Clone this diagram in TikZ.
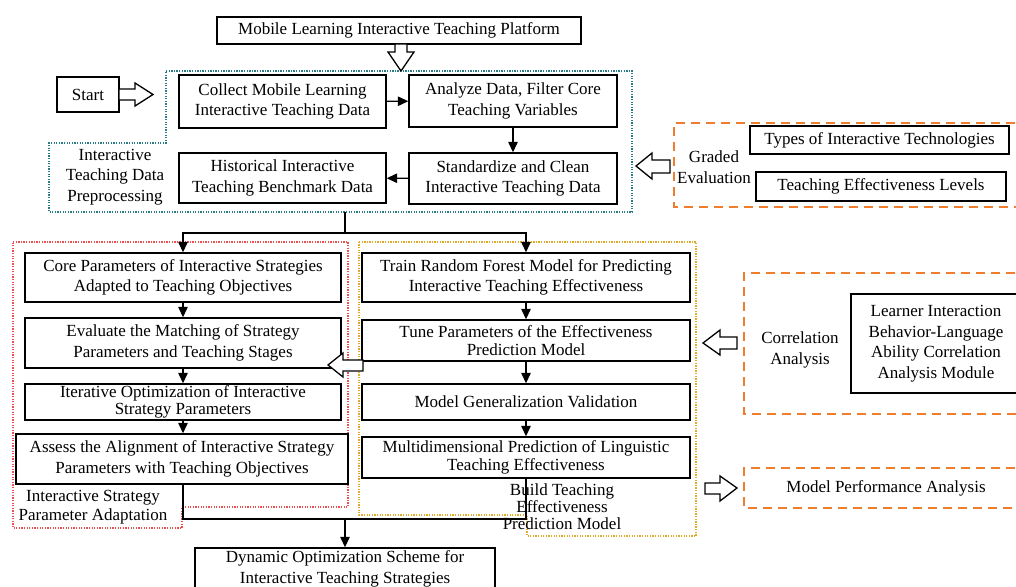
\documentclass[tikz,border=0pt]{standalone}
\usepackage{fontspec}
\setmainfont{Liberation Serif}
\usetikzlibrary{arrows.meta}
\definecolor{teal1}{RGB}{40,125,135}
\definecolor{red1}{RGB}{235,80,80}
\definecolor{yel1}{RGB}{225,170,40}
\definecolor{org1}{RGB}{240,125,45}
\begin{document}
\begin{tikzpicture}[x=1pt,y=-1pt,
 box/.style={draw=black,line width=1.4pt,align=center,inner sep=0pt,font=\fontsize{17}{20.5}\selectfont},
 tight/.style={font=\fontsize{17}{17.5}\selectfont},
 lbl/.style={align=center,inner sep=0pt,font=\fontsize{17}{20.5}\selectfont},
 arr/.style={line width=1.3pt,-{Triangle[length=10.5pt,width=9.5pt]}},
 ln/.style={line width=1.3pt},
 hollow/.style={draw=black,line width=1.3pt,fill=white,line join=miter},
 dotreg/.style={line width=1.3pt,dash pattern=on 1.3pt off 1.3pt},
 dashreg/.style={draw=org1,line width=1.6pt,dash pattern=on 9pt off 6pt}]
\useasboundingbox (0,0) rectangle (1016,586);
\fill[white] (0,0) rectangle (1016,586);
\clip (0,0) rectangle (1016,586);

% regions
\draw[dotreg,draw=teal1] (166,71) -- (632,71) -- (632,212) -- (49,212) -- (49,143) -- (166,143) -- cycle;
\draw[dotreg,draw=red1] (13,242) -- (348,242) -- (348,507) -- (182,507) -- (182,528) -- (13,528) -- cycle;
\draw[dotreg,draw=yel1] (359,242) -- (696,242) -- (696,536) -- (527,536) -- (527,515) -- (359,515) -- cycle;
\draw[dashreg] (1030,123) -- (674,123) -- (674,207) -- (1030,207);
\draw[dashreg] (1030,273) -- (744,273) -- (744,414) -- (1030,414);
\draw[dashreg] (1030,468) -- (744,468) -- (744,508) -- (1030,508);

% nodes
\node[box,minimum width=364pt,minimum height=27pt] (plat) at (399,30.5) {Mobile Learning Interactive Teaching Platform};
\node[box,minimum width=62pt,minimum height=35pt] (start) at (88,94.5) {Start};
\node[box,minimum width=207pt,minimum height=53pt] (collect) at (282.5,101.5) {Collect Mobile Learning\\Interactive Teaching Data};
\node[box,minimum width=208pt,minimum height=52pt] (analyze) at (513,101) {Analyze Data, Filter Core\\Teaching Variables};
\node[box,minimum width=207pt,minimum height=50pt] (hist) at (282.5,178) {Historical Interactive\\Teaching Benchmark Data};
\node[box,minimum width=208pt,minimum height=51pt] (stdz) at (513,178.5) {Standardize and Clean\\Interactive Teaching Data};
\node[lbl] (prep) at (115,177) {Interactive\\Teaching Data\\Preprocessing};

\node[lbl] (graded) at (714,167) {Graded\\Evaluation};
\node[box,minimum width=259pt,minimum height=28pt] (types) at (879.5,140) {Types of Interactive Technologies};
\node[box,minimum width=250pt,minimum height=29pt] (levels) at (881,186.5) {Teaching Effectiveness Levels};

\node[box,minimum width=316pt,minimum height=49pt] (core) at (183,277.5) {Core Parameters of Interactive Strategies\\Adapted to Teaching Objectives};
\node[box,minimum width=316pt,minimum height=50pt] (evalm) at (183,343) {Evaluate the Matching of Strategy\\Parameters and Teaching Stages};
\node[box,tight,minimum width=316pt,minimum height=36pt] (iter) at (183,402) {Iterative Optimization of Interactive\\Strategy Parameters};
\node[box,minimum width=332pt,minimum height=50pt] (assess) at (182,459) {Assess the Alignment of Interactive Strategy\\Parameters with Teaching Objectives};
\node[lbl,font=\fontsize{17}{19}\selectfont] (ispa) at (93,507.5) {Interactive Strategy\\Parameter Adaptation};

\node[box,minimum width=328pt,minimum height=49pt] (train) at (526,277.5) {Train Random Forest Model for Predicting\\Interactive Teaching Effectiveness};
\node[box,tight,minimum width=328pt,minimum height=41pt] (tune) at (526,340.5) {Tune Parameters of the Effectiveness\\Prediction Model};
\node[box,minimum width=328pt,minimum height=36pt] (gen) at (526,402) {Model Generalization Validation};
\node[box,tight,minimum width=328pt,minimum height=41pt] (multi) at (526,457.5) {Multidimensional Prediction of Linguistic\\Teaching Effectiveness};
\node[lbl,font=\fontsize{17}{17}\selectfont] (btepm) at (562,507) {Build Teaching\\Effectiveness\\Prediction Model};

\node[lbl] (corr) at (800,350) {Correlation\\Analysis};
\node[box,minimum width=170pt,minimum height=99pt] (learner) at (936,343.5) {Learner Interaction\\Behavior-Language\\Ability Correlation\\Analysis Module};
\node[lbl] (perf) at (886,488) {Model Performance Analysis};

\node[box,minimum width=300pt,minimum height=42pt] (dyn) at (345,569) {Dynamic Optimization Scheme for\\Interactive Teaching Strategies};

% connectors
\draw[arr] (collect) -- (analyze);
\draw[arr] (analyze) -- (stdz);
\draw[arr] (stdz) -- (hist);
\coordinate (pbot) at (345,212);
\coordinate (sp) at (345,233);
\draw[ln] (pbot) -- (sp);
\draw[arr] (sp) -| (core.north);
\draw[arr] (sp) -| (train.north);
\draw[arr] (core) -- (evalm);
\draw[arr] (evalm) -- (iter);
\draw[arr] (iter.south) -- (iter.south |- assess.north);
\draw[arr] (train) -- (tune);
\draw[arr] (tune) -- (gen);
\draw[arr] (gen) -- (multi);
\coordinate (mg) at (345,519);
\draw[ln] (iter.south |- assess.south) |- (multi.south |- mg) -- (multi.south);
\draw[arr] (mg) -- (dyn.north);

% hollow block arrows
\draw[hollow] (395,44) -- (407,44) -- (407,52) -- (414,52) -- (401,71) -- (388,52) -- (395,52) -- cycle;
\draw[hollow] (119,89) -- (135,89) -- (135,83) -- (153,94.5) -- (135,106) -- (135,100) -- (119,100) -- cycle;
\draw[hollow] (670,160) -- (652,160) -- (652,153) -- (636,166) -- (652,179) -- (652,173) -- (670,173) -- cycle;
\draw[hollow] (737,337) -- (720,337) -- (720,330) -- (703,343) -- (720,355) -- (720,349) -- (737,349) -- cycle;
\draw[hollow] (363,360) -- (343,360) -- (343,353) -- (328,365) -- (343,377) -- (343,371) -- (363,371) -- cycle;
\draw[hollow] (705,483) -- (720,483) -- (720,476) -- (737,488) -- (720,501) -- (720,494) -- (705,494) -- cycle;
\end{tikzpicture}
\end{document}
